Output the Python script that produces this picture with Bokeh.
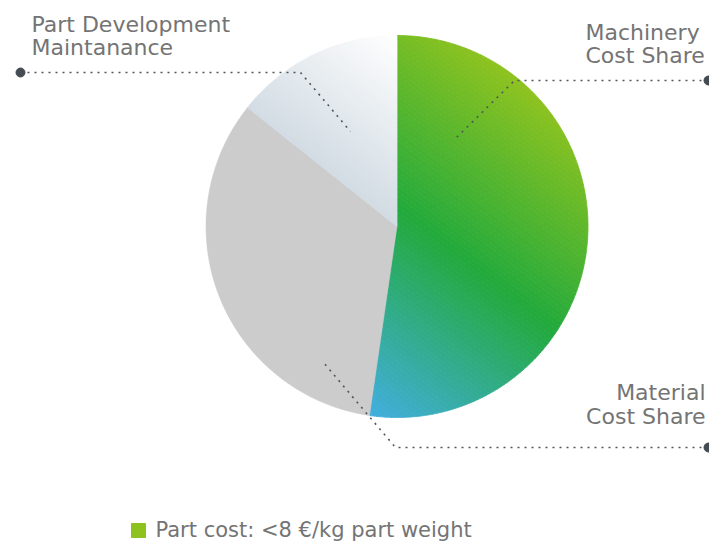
import numpy as np
from bokeh.plotting import figure
from bokeh.models import Range1d
from bokeh.core.properties import value
from bokeh.embed import file_html
from bokeh.resources import INLINE

# ---- data ----
categories = ["Machinery Cost Share", "Material Cost Share", "Part Development Maintanance"]
shares = [52.3, 33.4, 14.3]
label_lines = [["Machinery", "Cost Share"], ["Material", "Cost Share"], ["Part Development", "Maintanance"]]
legend_label = "Part cost: <8 \u20ac/kg part weight"

# ---- styles / layout (screen pixel coordinates of the 709x544 window) ----
CX, CY, R = 396.5, 226.0, 191.0
FONT = "DejaVu Sans"
TEXT_COLOR = "#747474"
LEADER_COLOR = "#50565c"
DOT_COLOR = "#454b52"
GRAY = "#cbcccb"
TEXT_DY = -8
green_stops = [(-172, (66, 174, 228)), (15, (34, 170, 60)), (192, (143, 195, 31))]
white_stops = [(-5, (208, 218, 226)), (152, (255, 255, 255))]
grad_dir = np.array([0.612, -0.791])

label_layout = [
    dict(x=585, ys=[40, 63], align="left",
         leader=[(708, 80), (514, 80), (453, 140)]),
    dict(x=705, ys=[400, 424], align="right",
         leader=[(708, 447), (395, 447), (323, 362)]),
    dict(x=31, ys=[32, 55], align="left",
         leader=[(20, 72), (300, 72), (350, 131)]),
]

p = figure(width=709, height=544, x_range=Range1d(0, 709), y_range=Range1d(544, 0),
           output_backend="svg", toolbar_location=None, min_border=0)
p.axis.visible = False
p.grid.visible = False
p.outline_line_color = None
p.background_fill_color = "white"
p.border_fill_color = "white"


def slice_polygon(a0, a1):
    th = np.linspace(a0, a1, max(8, int((a1 - a0) / (2 * np.pi) * 600)))
    xs = np.concatenate([[CX], CX + R * np.sin(th)])
    ys = np.concatenate([[CY], CY - R * np.cos(th)])
    return np.column_stack([xs, ys])


def clip_half(pts, u, c, sign):
    out = []
    n = len(pts)
    for i in range(n):
        P, Q = pts[i], pts[(i + 1) % n]
        dp = sign * (np.dot(P - [CX, CY], u) - c)
        dq = sign * (np.dot(Q - [CX, CY], u) - c)
        if dp >= 0:
            out.append(P)
        if (dp >= 0) != (dq >= 0):
            t = dp / (dp - dq)
            out.append(P + t * (Q - P))
    return np.array(out) if out else np.zeros((0, 2))


def interp_color(t, stops):
    ts = [s[0] for s in stops]
    t = min(max(t, ts[0]), ts[-1])
    for (t0, c0), (t1, c1) in zip(stops[:-1], stops[1:]):
        if t0 <= t <= t1:
            f = (t - t0) / (t1 - t0) if t1 > t0 else 0
            c = [int(round(a + f * (b - a))) for a, b in zip(c0, c1)]
            return "#%02x%02x%02x" % tuple(c)
    return "#%02x%02x%02x" % stops[-1][1]


def gradient_slice(poly, stops, n=90):
    proj = (poly - [CX, CY]) @ grad_dir
    edges = np.linspace(proj.min() - 0.01, proj.max() + 0.01, n + 1)
    xs, ys, cols = [], [], []
    for a, b in zip(edges[:-1], edges[1:]):
        q = clip_half(poly, grad_dir, a, 1)
        if len(q) < 3:
            continue
        q = clip_half(q, grad_dir, b, -1)
        if len(q) < 3:
            continue
        xs.append(list(q[:, 0]))
        ys.append(list(q[:, 1]))
        cols.append(interp_color((a + b) / 2, stops))
    p.patches(xs, ys, fill_color=cols, line_color=cols, line_width=0.8)


total = sum(shares)
angles = np.cumsum([0] + [s / total * 2 * np.pi for s in shares])
for i, cat in enumerate(categories):
    poly = slice_polygon(angles[i], angles[i + 1])
    if i == 0:
        gradient_slice(poly, green_stops)
    elif i == 1:
        p.patch(poly[:, 0], poly[:, 1], fill_color=GRAY, line_color=GRAY, line_width=0.5)
    else:
        gradient_slice(poly, white_stops, n=50)

# leaders and labels
for lines, lay in zip(label_lines, label_layout):
    lx = [pt[0] for pt in lay["leader"]]
    ly = [pt[1] for pt in lay["leader"]]
    p.line(lx, ly, line_color=LEADER_COLOR, line_width=1.6, line_dash="2 5")
    p.scatter([lx[0]], [ly[0]], size=9, color=DOT_COLOR)
    p.text([lay["x"]] * len(lines), [y + TEXT_DY for y in lay["ys"]], text=lines,
           text_font=value(FONT), text_font_size="22px", text_color=TEXT_COLOR,
           text_align=lay["align"], text_baseline="alphabetic")

# legend
p.scatter([138], [530], marker="square", size=14, color="#8dc21f")
p.text([155], [537 + TEXT_DY], text=[legend_label], text_font=value(FONT), text_font_size="21px",
       text_color=TEXT_COLOR, text_baseline="alphabetic")

open("out.html", "w").write(file_html(p, INLINE))
